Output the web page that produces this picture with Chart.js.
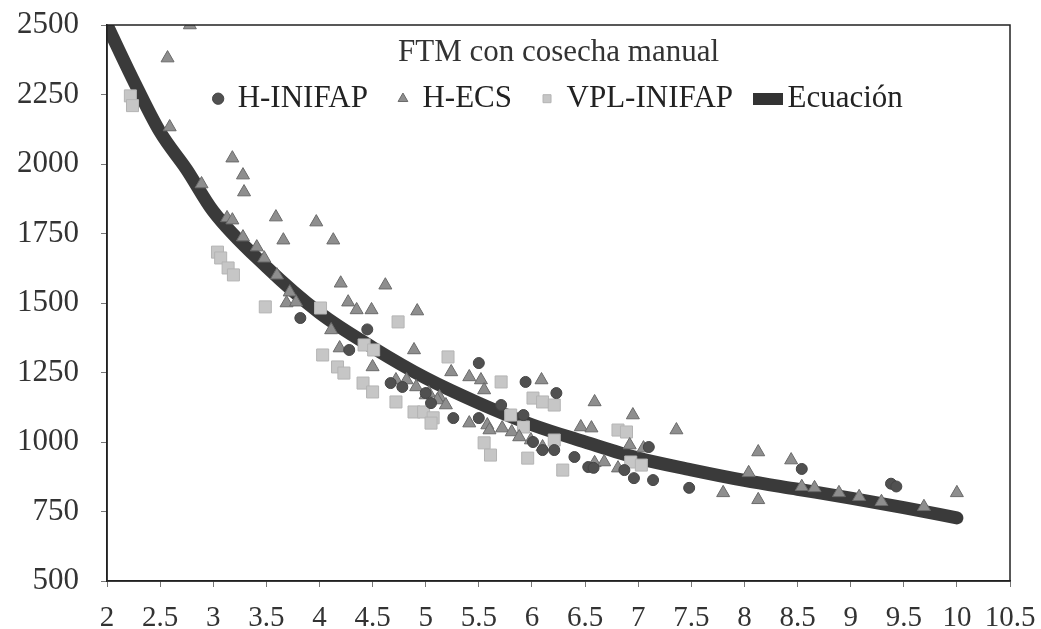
<!DOCTYPE html>
<html>
<head>
<meta charset="utf-8">
<script src="https://cdn.jsdelivr.net/npm/chart.js@4.4.1/dist/chart.umd.min.js"></script>
<style>
  html, body { margin: 0; padding: 0; background: #fff; }
  #wrap { width: 1041px; height: 629px; }
</style>
</head>
<body>
<div id="wrap"><canvas id="graph" width="1041" height="629"></canvas></div>
<script>
// FTM con cosecha manual
const inifapX = [3.82, 4.45, 4.28, 4.67, 4.78, 5.0, 5.05, 5.5, 5.94, 6.23, 5.26, 5.71, 5.92, 5.5, 6.01, 6.1, 6.21, 6.4, 6.53, 6.58, 7.1, 6.87, 6.96, 7.14, 7.48, 8.54, 9.38, 9.43];
const inifapY = [1446, 1405, 1331, 1212, 1198, 1176, 1140, 1284, 1216, 1176, 1086, 1133, 1097, 1086, 1000, 971, 971, 946, 910, 907, 982, 899, 870, 863, 835, 903, 850, 840];

const ecsX = [2.78, 2.57, 2.59, 2.89, 3.18, 3.28, 3.29, 3.13, 3.18, 3.28, 3.41, 3.48, 3.59, 3.66, 3.97, 4.13, 3.6, 3.72, 3.69, 3.78,
    4.2, 4.62, 4.27, 4.35, 4.49, 4.92, 4.89, 4.11, 4.19, 4.5, 4.72, 4.82, 4.91, 5.03, 5.13, 5.24, 5.41, 5.52, 5.55, 6.09,
    6.59, 5.0, 5.11, 5.19, 5.41, 5.58, 5.6, 5.72, 5.81, 5.88, 5.99, 6.1, 6.46, 6.56, 6.59, 6.68, 6.81, 6.95, 7.36, 6.92,
    7.05, 8.13, 8.44, 7.8, 8.13, 8.04, 8.54, 8.66, 8.89, 9.08, 9.29, 9.69, 10.0];
const ecsY = [2500, 2381, 2133, 1928, 2021, 1960, 1899, 1806, 1798, 1737, 1701, 1661, 1809, 1726, 1791, 1726, 1600, 1539, 1500, 1503,
    1571, 1564, 1503, 1475, 1475, 1471, 1331, 1403, 1338, 1270, 1223, 1223, 1198, 1176, 1162, 1252, 1234, 1223, 1187, 1223,
    1144, 1169, 1151, 1133, 1068, 1061, 1043, 1050, 1036, 1018, 1007, 982, 1054, 1050, 925, 928, 906, 1097, 1043, 989,
    978, 964, 935, 817, 792, 889, 839, 835, 817, 803, 785, 767, 817];

const vplX = [2.22, 2.24, 3.04, 3.07, 3.14, 3.19, 3.49, 4.01, 4.74, 4.03, 4.17, 4.23, 4.41, 4.5, 4.42, 4.51, 4.72, 4.89, 4.98, 5.07,
    5.21, 5.71, 6.01, 6.1, 6.21, 5.05, 5.8, 5.92, 5.55, 5.61, 5.96, 6.29, 6.21, 6.81, 6.89, 6.93, 7.03];
const vplY = [2245, 2210, 1683, 1662, 1626, 1601, 1486, 1482, 1432, 1313, 1270, 1248, 1212, 1180, 1349, 1331, 1144, 1108, 1108, 1087,
    1306, 1216, 1158, 1144, 1133, 1068, 1097, 1054, 997, 953, 942, 899, 1007, 1043, 1036, 928, 917];

// Ecuacion (curva ajustada)
const curveX = [2, 2.25, 2.5, 2.75, 3, 3.5, 4, 4.5, 5, 5.5, 6, 6.5, 7, 7.5, 8, 8.5, 9, 9.5, 10];
const curveY = [2500, 2300, 2115, 1980, 1830, 1630, 1465, 1340, 1230, 1140, 1062, 1000, 942, 900, 862, 830, 798, 764, 727];

const xTicks = [2, 2.5, 3, 3.5, 4, 4.5, 5, 5.5, 6, 6.5, 7, 7.5, 8, 8.5, 9, 9.5, 10, 10.5];
const yTicks = [500, 750, 1000, 1250, 1500, 1750, 2000, 2250, 2500];

function pairs(xs, ys) {
    return xs.map((x, i) => ({x: x, y: ys[i]}));
}

// marcador de la leyenda para la ecuacion (barra gruesa)
const eqMarker = document.createElement('canvas');
eqMarker.width = 30;
eqMarker.height = 12;
const mctx = eqMarker.getContext('2d');
mctx.fillStyle = '#333';
mctx.fillRect(0, 0, 30, 12);

// marco completo del area de graficado
const frame = {
    id: 'frame',
    afterDatasetsDraw(chart) {
        const a = chart.chartArea;
        const c = chart.ctx;
        c.save();
        c.strokeStyle = '#222';
        c.lineWidth = 1.5;
        c.strokeRect(a.left, a.top, a.right - a.left, a.bottom - a.top);
        c.restore();
    }
};

// la leyenda queda arriba pero sin ocupar espacio (se dibuja dentro del area)
const legendOverlay = {
    id: 'legendOverlay',
    beforeLayout(chart) {
        const lg = chart.legend;
        if (lg && !lg._overlay) {
            const fit = lg.fit;
            const draw = lg.draw;
            lg.fit = function () {
                fit.call(this);
                this._realH = this.height;
                this.height = 0;
            };
            lg.draw = function () {
                const b = this.bottom;
                this.bottom = this.top + this._realH;
                draw.call(this);
                this.bottom = b;
            };
            lg._overlay = true;
        }
    }
};

const serif = 'Liberation Serif';

const ctx = document.getElementById('graph').getContext('2d');
const myChart = new Chart(ctx, {
    type: 'scatter',
    data: {
        datasets: [{
            label: 'H-INIFAP',
            data: pairs(inifapX, inifapY),
            pointStyle: 'circle',
            pointRadius: 5.5,
            pointHoverRadius: 5.5,
            backgroundColor: '#505050',
            borderColor: '#444',
            borderWidth: 1
        }, {
            label: 'H-ECS',
            data: pairs(ecsX, ecsY),
            pointStyle: 'triangle',
            pointRadius: 7.5,
            pointHoverRadius: 7.5,
            backgroundColor: '#8e8e8e',
            borderColor: '#6a6a6a',
            borderWidth: 1
        }, {
            label: 'VPL-INIFAP',
            data: pairs(vplX, vplY),
            pointStyle: 'rect',
            pointRadius: 8.5,
            pointHoverRadius: 8.5,
            backgroundColor: '#c6c6c6',
            borderColor: '#b4b4b4',
            borderWidth: 1
        }, {
            label: 'Ecuación',
            type: 'line',
            data: pairs(curveX, curveY),
            showLine: true,
            borderColor: '#3a3a3a',
            backgroundColor: '#333',
            borderWidth: 13,
            borderCapStyle: 'round',
            pointRadius: 0,
            pointHoverRadius: 0,
            pointStyle: eqMarker,
            tension: 0.4,
            cubicInterpolationMode: 'monotone'
        }]
    },
    options: {
        responsive: false,
        animation: false,
        layout: {padding: {top: 25, right: 31, left: 0, bottom: 0}},
        plugins: {
            tooltip: {enabled: false},
            legend: {
                position: 'top',
                fullSize: false,
                align: 'center',
                title: {
                    display: true,
                    text: 'FTM con cosecha manual',
                    color: '#333',
                    font: {family: serif, size: 31},
                    padding: {top: 12, bottom: -22}
                },
                labels: {
                    usePointStyle: true,
                    boxWidth: 8,
                    boxHeight: 8,
                    padding: 31,
                    color: '#222',
                    font: {family: serif, size: 31}
                }
            }
        },
        scales: {
            x: {
                type: 'linear',
                min: 2,
                max: 10.5,
                afterFit: (s) => {
                    s.height = 48;
                    s.paddingLeft = 0;
                    s.paddingRight = 0;
                },
                afterBuildTicks: (s) => { s.ticks = xTicks.map(v => ({value: v})); },
                border: {display: true, color: '#222', width: 1.5},
                grid: {drawOnChartArea: false, drawTicks: true, tickLength: 6, color: '#777'},
                ticks: {
                    padding: 14,
                    color: '#333',
                    maxRotation: 0,
                    autoSkip: false,
                    font: {family: serif, size: 29},
                    callback: (v) => String(v)
                }
            },
            y: {
                type: 'linear',
                min: 500,
                max: 2500,
                afterFit: (s) => {
                    s.width = 107;
                    s.paddingTop = 0;
                    s.paddingBottom = 0;
                },
                afterBuildTicks: (s) => { s.ticks = yTicks.map(v => ({value: v})); },
                border: {display: true, color: '#222', width: 1.5},
                grid: {drawOnChartArea: false, drawTicks: true, tickLength: 6, color: '#777'},
                ticks: {
                    padding: 22,
                    color: '#333',
                    autoSkip: false,
                    font: {family: serif, size: 31},
                    callback: (v) => String(v)
                }
            }
        }
    },
    plugins: [frame, legendOverlay]
});
</script>
</body>
</html>
